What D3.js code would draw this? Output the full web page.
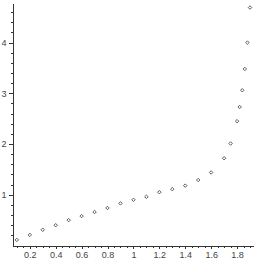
<!DOCTYPE html>
<html>
<head>
<meta charset="utf-8">
<script src="https://d3js.org/d3.v7.min.js"></script>
<style>
  body { margin: 0; background: #fff; }
  .axis text { font-family: "Liberation Sans", Arial, sans-serif; font-size: 9px; fill: #444; }
  .axis path, .axis line { stroke: #333; shape-rendering: crispEdges; }
</style>
</head>
<body>
<script>
// values
let xs = [0.1, 0.2, 0.3, 0.4, 0.5, 0.6, 0.7, 0.8, 0.9, 1.0, 1.1, 1.2, 1.3, 1.4, 1.5, 1.6, 1.7,
          1.75, 1.8, 1.82, 1.84, 1.86, 1.88, 1.9];
let ys = [0.11, 0.21, 0.31, 0.40, 0.50, 0.58, 0.66, 0.74, 0.83, 0.90, 0.96, 1.05, 1.11, 1.18, 1.29, 1.44, 1.72,
          2.01, 2.45, 2.73, 3.06, 3.48, 4.0, 4.69];
let xTicks = [0.2, 0.4, 0.6, 0.8, 1, 1.2, 1.4, 1.6, 1.8];
let yTicks = [1, 2, 3, 4];

let w = 259, h = 259;

let svg = d3.select("body").append("svg")
    .attr("width", w)
    .attr("height", h);

let x_scale = d3.scaleLinear()
    .domain([0.0666, 1.923])
    .range([12.5, 253]);

let y_scale = d3.scaleLinear()
    .domain([0, 4.77])
    .range([245.5, 3.5]);

// minor ticks every 0.05 on x, 0.2 on y
let xMinor = d3.range(0.1, 1.93, 0.05).map(v => +v.toFixed(2));
let yMinor = d3.range(0.2, 4.8, 0.2).map(v => +v.toFixed(1));

svg.append("g")
    .attr("class", "axis")
    .attr("transform", "translate(0," + y_scale(0) + ")")
    .call(d3.axisBottom(x_scale).tickValues(xMinor).tickSize(2).tickFormat(""))
    .call(g => g.select(".domain").remove());

svg.append("g")
    .attr("class", "axis")
    .attr("transform", "translate(0," + y_scale(0) + ")")
    .call(d3.axisBottom(x_scale).tickValues(xTicks).tickSize(3).tickSizeOuter(0).tickPadding(3)
        .tickFormat(d => d));

svg.append("g")
    .attr("class", "axis")
    .attr("transform", "translate(" + x_scale.range()[0] + ",0)")
    .call(d3.axisLeft(y_scale).tickValues(yMinor).tickSize(2).tickFormat(""))
    .call(g => g.select(".domain").remove());

svg.append("g")
    .attr("class", "axis")
    .attr("transform", "translate(" + x_scale.range()[0] + ",0)")
    .call(d3.axisLeft(y_scale).tickValues(yTicks).tickSize(4).tickSizeOuter(0).tickPadding(2)
        .tickFormat(d => d));

let points = xs.map((d, i) => ({ x: d, y: ys[i] }));

// small square turned 45 degrees, like the reference markers
svg.selectAll(".pt")
    .data(points)
    .join("path")
    .attr("class", "pt")
    .attr("transform", d => "translate(" + x_scale(d.x) + "," + y_scale(d.y) + ") rotate(45)")
    .attr("d", d3.symbol(d3.symbolSquare, 6))
    .attr("fill", "#fff")
    .attr("stroke", "#555")
    .attr("stroke-width", 0.9);
</script>
</body>
</html>
